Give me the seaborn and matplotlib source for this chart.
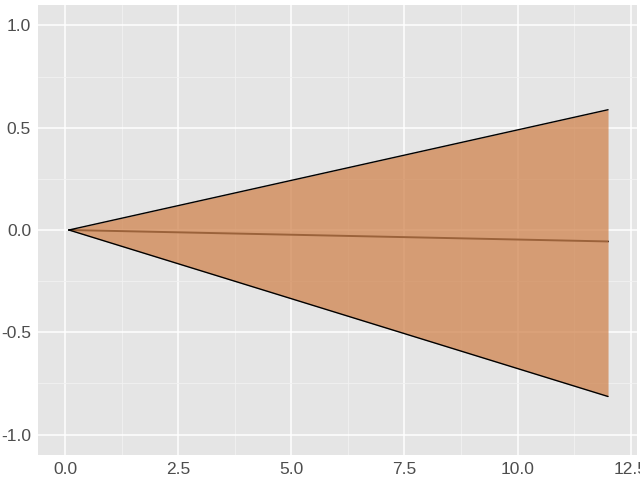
import matplotlib
matplotlib.use("Agg")
import matplotlib.pyplot as plt
import seaborn as sns
import pandas as pd
from matplotlib.ticker import MultipleLocator

# values
horizon = [0.083, 12.0]
upper = [0.0, 0.588]
median = [0.0, -0.056]
lower = [0.0, -0.814]

df = pd.DataFrame({"x": horizon, "upper": upper, "median": median, "lower": lower})

sns.set_theme(style="darkgrid", rc={
    "axes.facecolor": "#E5E5E5",
    "grid.color": "white",
    "axes.edgecolor": "#E5E5E5",
    "xtick.color": "#333333",
    "ytick.color": "#333333",
})
plt.rcParams['font.family'] = ['Liberation Sans', 'DejaVu Sans']

fig = plt.figure(figsize=(6.4, 4.8), dpi=100)
ax = fig.add_axes([38/640, 25/480, 599/640, 450/480])

# median line drawn first, the semi-transparent ribbon sits on top of it
sns.lineplot(data=df, x="x", y="median", ax=ax, color="black", linewidth=1.4, zorder=2)
ax.fill_between(df["x"], df["lower"], df["upper"], color="#D0844F", alpha=0.75,
                linewidth=0, zorder=3)
sns.lineplot(data=df, x="x", y="upper", ax=ax, color="black", linewidth=1.0, zorder=4)
sns.lineplot(data=df, x="x", y="lower", ax=ax, color="black", linewidth=1.0, zorder=4)

ax.set_xlim(-0.6, 12.64)
ax.set_ylim(-1.1, 1.1)
ax.xaxis.set_major_locator(MultipleLocator(2.5))
ax.xaxis.set_minor_locator(MultipleLocator(1.25))
ax.yaxis.set_major_locator(MultipleLocator(0.5))
ax.yaxis.set_minor_locator(MultipleLocator(0.25))
ax.set_xticks([0, 2.5, 5, 7.5, 10, 12.5])
ax.set_xticklabels(["0.0", "2.5", "5.0", "7.5", "10.0", "12.5"])
ax.set_yticks([-1, -0.5, 0, 0.5, 1])
ax.set_yticklabels(["-1.0", "-0.5", "0.0", "0.5", "1.0"])
ax.grid(which="major", color="white", linewidth=1.1)
ax.grid(which="minor", color="#F2F2F2", linewidth=0.6)
ax.tick_params(which="major", length=3, width=0.8, color="#333333",
               labelsize=12.5, labelcolor="#4D4D4D", pad=2)
ax.tick_params(which="minor", length=0)
ax.set_xlabel("")
ax.set_ylabel("")
for s in ax.spines.values():
    s.set_visible(False)

fig.savefig("out.png", dpi=100)
